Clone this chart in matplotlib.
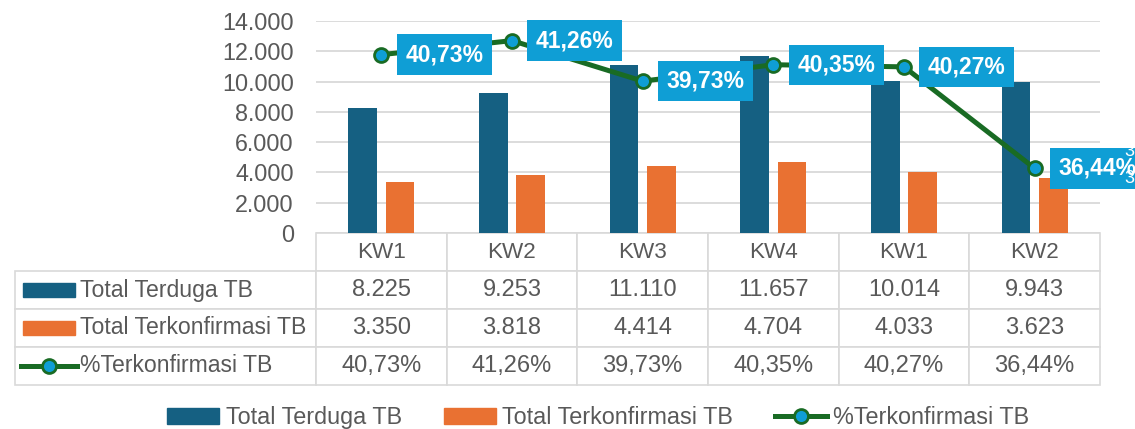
import numpy as np
import matplotlib.pyplot as plt
from matplotlib.patches import Patch, Rectangle
from matplotlib.lines import Line2D
from matplotlib.ticker import FuncFormatter

plt.rcParams['font.family'] = ['Liberation Sans', 'DejaVu Sans']

categories = ['KW1', 'KW2', 'KW3', 'KW4', 'KW1', 'KW2']
total_terduga = [8225, 9253, 11110, 11657, 10014, 9943]
total_konfirmasi = [3350, 3818, 4414, 4704, 4033, 3623]
pct_konfirmasi = [40.73, 41.26, 39.73, 40.35, 40.27, 36.44]
series_names = ['Total Terduga TB', 'Total Terkonfirmasi TB', '%Terkonfirmasi TB']

DARK = '#156082'
ORANGE = '#E97132'
GREEN = '#196B24'
CYAN = '#0F9ED5'
GRID = '#D9D9D9'
TEXT = '#595959'


def thousands(v):
    return f"{int(round(v)):,}".replace(',', '.')


def percent(v):
    return f"{v:.2f}%".replace('.', ',')


W, H = 1135, 429
fig = plt.figure(figsize=(W / 100, H / 100), dpi=100)
# plot area in pixels: x 316..1100, y 21..233
ax = fig.add_axes([316 / W, 1 - 233 / H, 784 / W, 212 / H])

x = np.arange(len(categories))
ax.bar(x - 0.142, total_terduga, 0.22, color=DARK, zorder=2)
ax.bar(x + 0.142, total_konfirmasi, 0.22, color=ORANGE, zorder=2)

ax.set_xlim(-0.5, len(categories) - 0.5)
ax.set_ylim(0, 14000)
ax.set_yticks(range(0, 14001, 2000))
ax.yaxis.set_major_formatter(FuncFormatter(lambda v, _: thousands(v)))
ax.set_xticks([])
ax.tick_params(axis='y', length=0, pad=16, labelsize=16.8, labelcolor=TEXT)
ax.grid(axis='y', color=GRID, lw=1.3)
ax.set_axisbelow(True)
for s in ax.spines.values():
    s.set_visible(False)

# secondary axis for the percentage line
ax2 = ax.twinx()
ax2.set_ylim(34, 42)
ax2.axis('off')
ax2.plot(x, pct_konfirmasi, color=GREEN, lw=3.6, marker='o', ms=10,
         mfc=CYAN, mec=GREEN, mew=2, zorder=3)
for xi, p in zip(x, pct_konfirmasi):
    ax2.annotate(percent(p), (xi, p), xytext=(24, 0), textcoords='offset pixels',
                 ha='left', va='center', fontsize=16.5, fontweight='bold', color='white',
                 bbox=dict(boxstyle='square,pad=0.38', fc=CYAN, ec='none'),
                 annotation_clip=False, zorder=5)

# clipped leftover label glyphs at the right edge
for yy in (0.648, 0.585):
    fig.text(1124 / W, yy, '3', fontsize=13, color='white', ha='left', va='center',
             zorder=10)

# data table below the plot (first column holds the series names)
lab_w = 301 / 784
tbl_h = 152 / 212
cell_text = [[series_names[0]] + [thousands(v) for v in total_terduga],
             [series_names[1]] + [thousands(v) for v in total_konfirmasi],
             [series_names[2]] + [percent(v) for v in pct_konfirmasi]]
tbl = ax.table(cellText=cell_text, colLabels=[''] + categories,
               colWidths=[lab_w] + [1 / 6] * 6, cellLoc='center',
               bbox=[-lab_w, -tbl_h, 1 + lab_w, tbl_h])
tbl.auto_set_font_size(False)
for (r, c), cell in tbl.get_celld().items():
    cell.set_edgecolor(GRID)
    cell.set_linewidth(1.2)
    txt = cell.get_text()
    txt.set_color(TEXT)
    txt.set_fontsize(16.2 if r == 0 else 17)
    if c == 0:
        if r == 0:
            cell.visible_edges = ''
        cell.PAD = 65 / 301
        txt.set_ha('left')
        txt.set_fontsize(16.6)
        cell._loc = 'left'

# legend keys inside the row label cells
row_h = tbl_h / 4
kx0 = -lab_w + 8 / 784
kw = 52 / 784
kh = 14 / 212
for k, col in ((1, DARK), (2, ORANGE)):
    yc = -row_h * (k + 0.5)
    ax.add_patch(Rectangle((kx0, yc - kh / 2), kw, kh, color=col,
                           transform=ax.transAxes, clip_on=False, zorder=4))
yc = -row_h * 3.5
lx = [-lab_w + 6 / 784, -lab_w + 34 / 784, -lab_w + 62 / 784]
ax.plot(lx, [yc] * 3, transform=ax.transAxes, clip_on=False, color=GREEN, lw=3.6,
        marker='o', ms=10, mfc=CYAN, mec=GREEN, mew=2, markevery=[1], zorder=4)

handles = [Patch(color=DARK), Patch(color=ORANGE),
           Line2D([], [], color=GREEN, lw=3.6, marker='o', ms=10, mfc=CYAN, mec=GREEN, mew=2)]
fig.legend(handles, series_names, loc='center', bbox_to_anchor=(0.527, 0.026), ncol=3,
           frameon=False, fontsize=16.8, handlelength=2.23, handletextpad=0.26,
           columnspacing=1.8, labelcolor=TEXT)

fig.savefig('out.png', dpi=100)
